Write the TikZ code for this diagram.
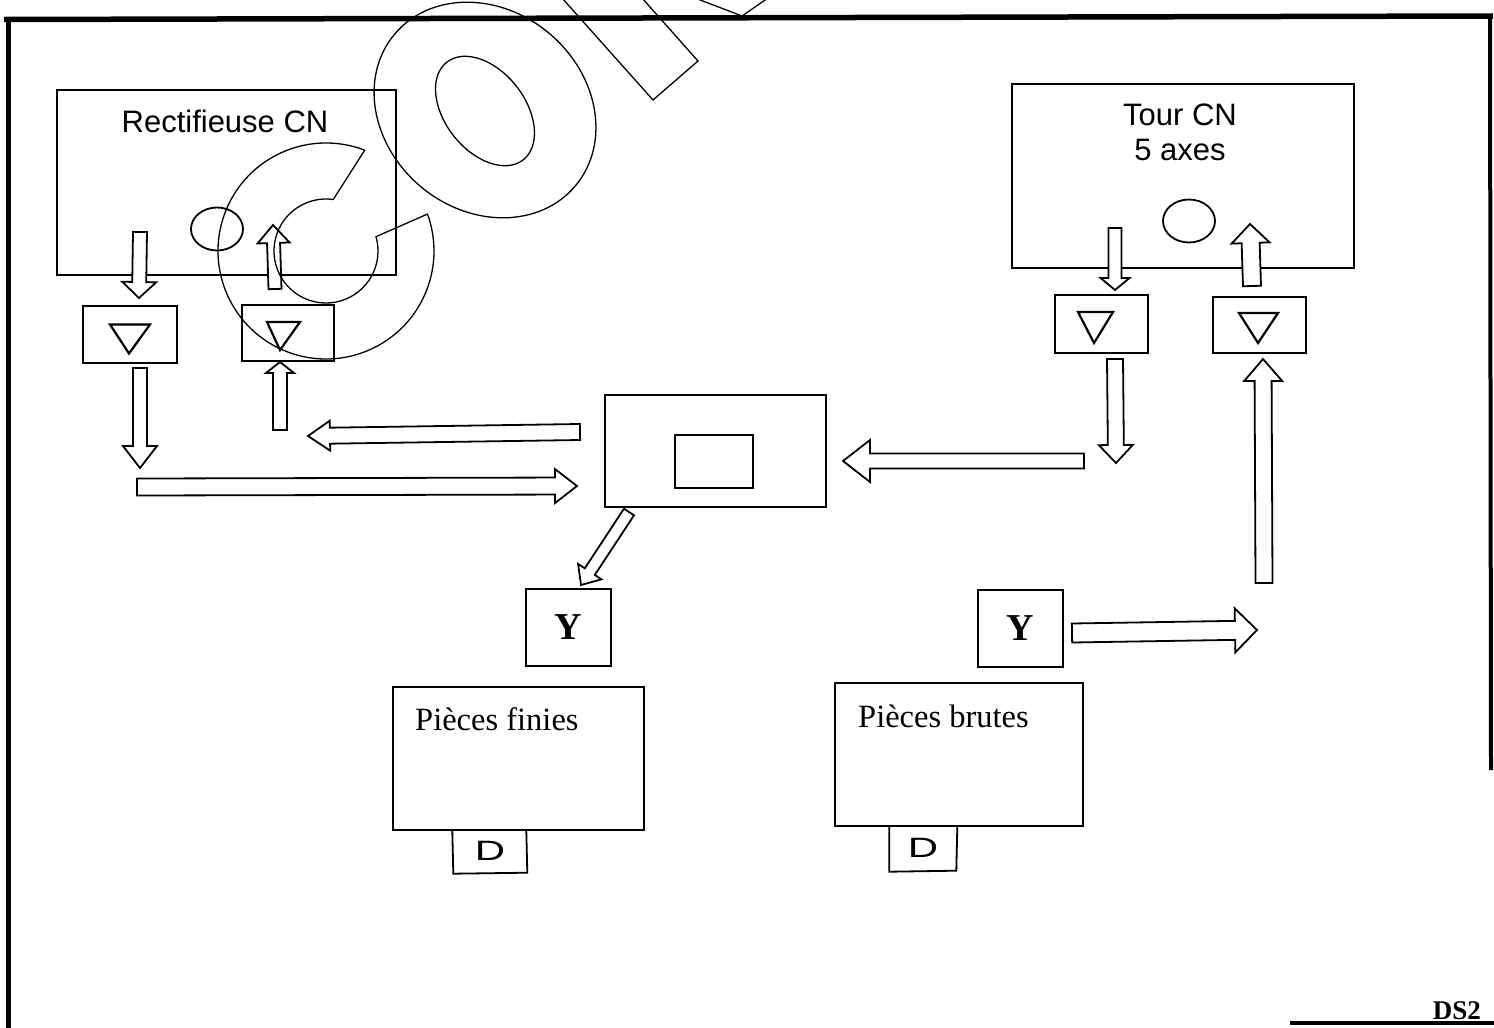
\documentclass[tikz,border=0pt]{standalone}
\usepackage{fontspec}
\setmainfont{Liberation Serif}
\newfontfamily\arialf{Liberation Sans}
\usetikzlibrary{calc,shapes.geometric}
\newcommand{\hollowarrow}[5]{%
  \path ($(#2)!#5!(#1)$) coordinate (hb);
  \draw[blockarrow] ($(#1)!#3!90:(#2)$) -- ($(hb)!#3!90:(#2)$) -- ($(hb)!#4!90:(#2)$) -- (#2)
    -- ($(hb)!#4!-90:(#2)$) -- ($(hb)!#3!-90:(#2)$) -- ($(#1)!#3!-90:(#2)$) -- cycle;
}
\begin{document}
\begin{tikzpicture}[x=1pt,y=-1pt,
  box/.style={draw,line width=1.4pt,inner sep=0pt},
  blockarrow/.style={draw,line width=1.8pt,line join=miter,fill=white},
  wm/.style={line width=1.3pt},
  tri/.style={draw,line width=2.2pt,line join=miter},
  ring/.style={draw,ellipse,line width=1.8pt,inner sep=0pt},
  sanslabel/.style={font=\arialf\fontsize{31}{31}\selectfont,anchor=base,inner sep=0pt},
  seriflabel/.style={font=\fontsize{32.5}{32.5}\selectfont,anchor=base west,inner sep=0pt},
  ybox/.style={box,minimum width=85pt,minimum height=77pt,font=\fontsize{38}{38}\selectfont\bfseries},
  dtext/.style={font=\arialf\fontsize{28}{28}\selectfont,inner sep=0pt}]
\useasboundingbox (0,0) rectangle (1494,1028);
\fill[white] (0,0) rectangle (1494,1028);

% frame
\draw[line width=5.5pt] (4,19.5) -- (1493,16);
\draw[line width=5pt] (8,17) -- (8,1028);
\draw[line width=4pt] (1490,14) -- (1491,770);
\draw[line width=4pt] (1290,1023) -- (1494,1023);

% machines
\node[box,minimum width=339pt,minimum height=185pt] (rect) at (226.5,182.5) {};
\node[box,minimum width=342pt,minimum height=184pt] (tour) at (1183,176) {};
\node[sanslabel] (rtxt) at (225,132) {Rectifieuse CN};
\node[sanslabel] (ttxt1) at (1180,125) {Tour CN};
\node[sanslabel] (ttxt2) at (1180,160) {5 axes};
\node[ring,minimum width=52pt,minimum height=43pt] (c1) at (217,229) {};
\node[ring,minimum width=52pt,minimum height=43pt] (c2) at (1189,221) {};

% stock boxes with triangles
\node[box,minimum width=94pt,minimum height=57pt] (t1) at (130,334.5) {};
\node[box,minimum width=92pt,minimum height=56pt] (t2) at (288,333) {};
\node[box,minimum width=93pt,minimum height=58pt] (t3) at (1101.5,324) {};
\node[box,minimum width=93pt,minimum height=56pt] (t4) at (1259.5,325) {};
\draw[tri] ($(t1.center)+(-20,-10)$) -- ($(t1.center)+(20,-10)$) -- ($(t1.center)+(-1,19)$) -- cycle;
\draw[tri] ($(t2.center)+(-21,-11)$) -- ($(t2.center)+(12,-11)$) -- ($(t2.center)+(-8,17)$) -- cycle;
\draw[tri] ($(t3.center)+(-23.5,-12)$) -- ($(t3.center)+(11.5,-12)$) -- ($(t3.center)+(-7.5,19)$) -- cycle;
\draw[tri] ($(t4.center)+(-20.5,-12)$) -- ($(t4.center)+(18.5,-12)$) -- ($(t4.center)+(-1.5,18)$) -- cycle;

% central station
\node[box,minimum width=221pt,minimum height=112pt] (ctr) at (715.5,451) {};
\node[box,line width=2.2pt,minimum width=78pt,minimum height=53pt] (scr) at (714,461.5) {};

% Y boxes
\node[ybox] (y1) at (568.5,627.5) {Y};
\node[ybox] (y2) at (1020.5,628.5) {Y};

% parts stores
\node[box,minimum width=251pt,minimum height=143pt] (fin) at (518.5,758.5) {};
\node[box,minimum width=248pt,minimum height=143pt] (bru) at (959,754.5) {};
\node[seriflabel] (ftxt) at (415,730) {Pièces finies};
\node[seriflabel] (btxt) at (858,727) {Pièces brutes};
\draw[line width=1.8pt] ($(fin.south west)+(60,0)$) -- ++(1,43) -- ++(74,-1) -- ++(-1,-42);
\draw[line width=1.8pt] ($(bru.south west)+(55,0)$) -- ++(0,45) -- ++(67,-1) -- ++(1,-44);
\node[dtext] (d1) at (490,851) {\scalebox{1.5}[1]{D}};
\node[dtext] (d2) at (923,848) {\scalebox{1.5}[1]{D}};

% label
\node[font=\bfseries\fontsize{27}{27}\selectfont,anchor=base east,inner sep=0pt] (ds) at (1481,1019) {DS2};

% arrow end points
\coordinate (a1s) at (140,232);  \coordinate (a1e) at (139,298);
\coordinate (a2s) at (275,289);  \coordinate (a2e) at (273,225);
\coordinate (a3s) at (140,368);  \coordinate (a3e) at (140,468);
\coordinate (a4s) at (137,487);  \coordinate (a4e) at (577,486);
\coordinate (a5s) at (280,430);  \coordinate (a5e) at (280,362);
\coordinate (a6s) at (580,432);  \coordinate (a6e) at (308,436);
\coordinate (a7s) at (1084,461); \coordinate (a7e) at (843,461);
\coordinate (a8s) at (1115,228); \coordinate (a8e) at (1115,290);
\coordinate (a9s) at (1252,286); \coordinate (a9e) at (1250,224);
\coordinate (a10s) at (1115,359); \coordinate (a10e) at (1116,463);
\coordinate (a11s) at (1264,583); \coordinate (a11e) at (1263,359);
\coordinate (a12s) at (1072,633); \coordinate (a12e) at (1257,630);
\coordinate (a13s) at (629,512); \coordinate (a13e) at (581,585);

\hollowarrow{a1s}{a1e}{7pt}{17pt}{16pt}
\hollowarrow{a2s}{a2e}{6.5pt}{16pt}{18pt}
\hollowarrow{a3s}{a3e}{7pt}{17pt}{22pt}
\hollowarrow{a4s}{a4e}{8.5pt}{17pt}{22pt}
\hollowarrow{a5s}{a5e}{7pt}{14pt}{11pt}
\hollowarrow{a6s}{a6e}{8pt}{15pt}{22pt}
\hollowarrow{a7s}{a7e}{7.5pt}{21pt}{27pt}
\hollowarrow{a8s}{a8e}{6.5pt}{14.5pt}{12pt}
\hollowarrow{a9s}{a9e}{9pt}{19pt}{19pt}
\hollowarrow{a10s}{a10e}{8pt}{17pt}{18pt}
\hollowarrow{a11s}{a11e}{8.5pt}{19pt}{22pt}
\hollowarrow{a12s}{a12e}{9.5pt}{22pt}{22pt}
\hollowarrow{a13s}{a13e}{6pt}{14pt}{16pt}

% watermark outlines
\begin{scope}[wm]
\clip (0,0) rectangle (1494,1028);
\draw[rotate around={-40:(485,110)}] (485,110) ellipse [x radius=118, y radius=100];
\draw[rotate around={-52:(485,111)}] (485,111) ellipse [x radius=62, y radius=40];
\coordinate (cc) at (326,251);
\draw (cc) ++(-69:108) arc[start angle=-69, end angle=-380, radius=108]
  -- ($(cc)+(-16:52)$) arc[start angle=-16, end angle=278, radius=52] -- cycle;
\draw (562,-2) -- (653,100) -- (698,61) -- (642,-2);
\draw (695,-2) -- (742,16) -- (768,-2);
\end{scope}
\end{tikzpicture}
\end{document}
